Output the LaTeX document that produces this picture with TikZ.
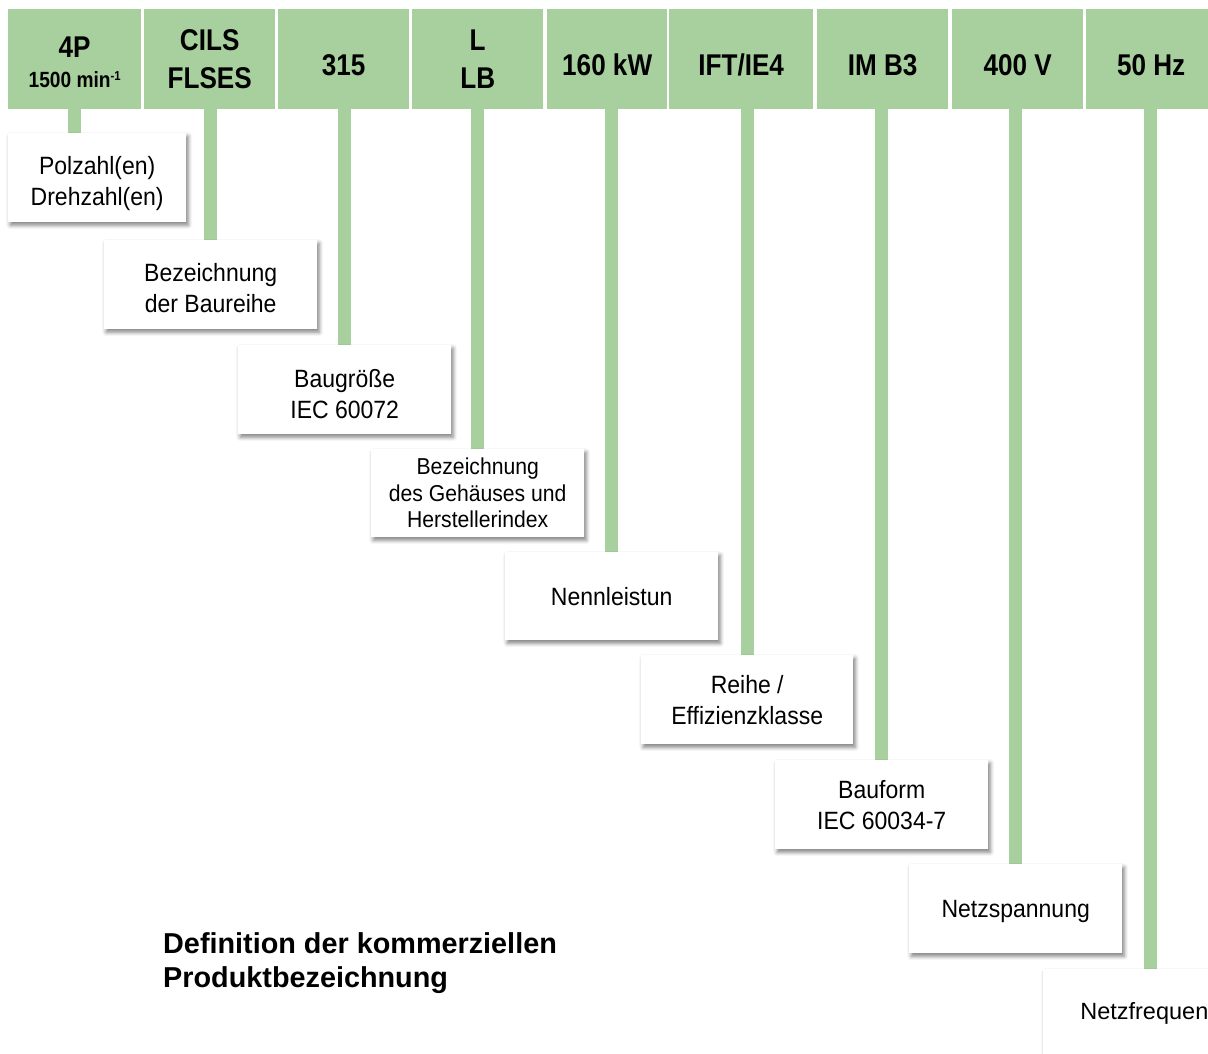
\documentclass[tikz,border=0pt]{standalone}
\usepackage{fontspec}
\setmainfont{Liberation Sans}
\newfontfamily\hdfamily[FakeStretch=0.87]{Liberation Sans}
\newfontfamily\bdfamily[FakeStretch=0.92]{Liberation Sans}
\usetikzlibrary{shadows.blur,backgrounds}
\definecolor{hdgreen}{RGB}{168,207,158}
\newcommand\hdfont{\hdfamily\bfseries\fontsize{30}{38}\selectfont}
\newcommand\bdfont{\bdfamily\fontsize{25}{31}\selectfont}
\newcommand\strt[1]{\rule{0pt}{#1}}
\tikzset{
  hd/.style={fill=hdgreen, anchor=north west, inner sep=0pt, align=center, font=\hdfont, minimum height=100pt},
  one/.style={text height=33pt, text depth=0pt},
  lbl/.style={fill=white, anchor=north west, inner sep=0pt, align=center, font=\bdfont,
    blur shadow={shadow xshift=2pt, shadow yshift=-3pt, shadow blur radius=4pt, shadow opacity=50}},
  stem/.style={draw=hdgreen, line width=13pt}
}
\begin{document}
\begin{tikzpicture}[x=1pt,y=-1pt]
\useasboundingbox (0,0) rectangle (1208,1053);
\clip (0,0) rectangle (1208,1053);
% header cells
\node[hd, minimum width=133pt] (h1) at (8,9) {{\fontsize{30}{30}\selectfont\strt{26pt}4P}\\[-8pt]{\fontsize{22}{22}\selectfont 1500 min\raisebox{7pt}{\fontsize{13}{13}\selectfont -1}}};
\node[hd, minimum width=131pt] (h2) at (144,9) {CILS\\FLSES};
\node[hd, one, minimum width=131pt] (h3) at (278,9) {315};
\node[hd, minimum width=131pt] (h4) at (412,9) {L\\LB};
\node[hd, one, minimum width=120pt] (h5) at (547,9) {160 kW};
\node[hd, one, minimum width=144pt] (h6) at (669,9) {IFT/IE4};
\node[hd, one, minimum width=131pt] (h7) at (817,9) {IM B3};
\node[hd, one, minimum width=131pt] (h8) at (952,9) {400 V};
\node[hd, one, minimum width=130pt] (h9) at (1086,9) {50 Hz};
% label boxes
\node[lbl, minimum width=178pt, minimum height=89pt] (b1) at (8,133) {\strt{29pt}Polzahl(en)\\Drehzahl(en)};
\node[lbl, minimum width=213pt, minimum height=89pt] (b2) at (104,240) {\strt{24.5pt}Bezeichnung\\der Baureihe};
\node[lbl, minimum width=213pt, minimum height=89pt] (b3) at (238,345) {\strt{26.5pt}Baugröße\\IEC 60072};
\node[lbl, minimum width=213pt, minimum height=88pt, font=\bdfamily\fontsize{23}{26.5}\selectfont] (b4) at (371,449) {Bezeichnung\\des Gehäuses und\\Herstellerindex};
\node[lbl, minimum width=213pt, minimum height=88pt] (b5) at (505,552) {Nennleistun};
\node[lbl, minimum width=212pt, minimum height=89pt] (b6) at (641,655) {Reihe /\\Effizienzklasse};
\node[lbl, minimum width=213pt, minimum height=89pt] (b7) at (775,760) {Bauform\\IEC 60034-7};
\node[lbl, minimum width=213pt, minimum height=89pt] (b8) at (909,864) {\strt{22pt}Netzspannung};
\node[lbl, minimum width=214pt, minimum height=89pt, font=\fontsize{23.5}{28}\selectfont] (b9) at (1043,969) {Netzfrequenz};
% title
\node[anchor=north west, inner sep=0pt, align=left, font=\bfseries\fontsize{28.8}{34}\selectfont] (title) at (163,932.5) {Definition der kommerziellen\\Produktbezeichnung};
% stems
\begin{pgfonlayer}{background}
\draw[stem] (h1.south) -- (h1.south |- b1.north);
\foreach \i in {2,...,9}{
  \draw[stem] (b\i.north) -- (b\i.north |- h\i.south);
}
\end{pgfonlayer}
\end{tikzpicture}
\end{document}
